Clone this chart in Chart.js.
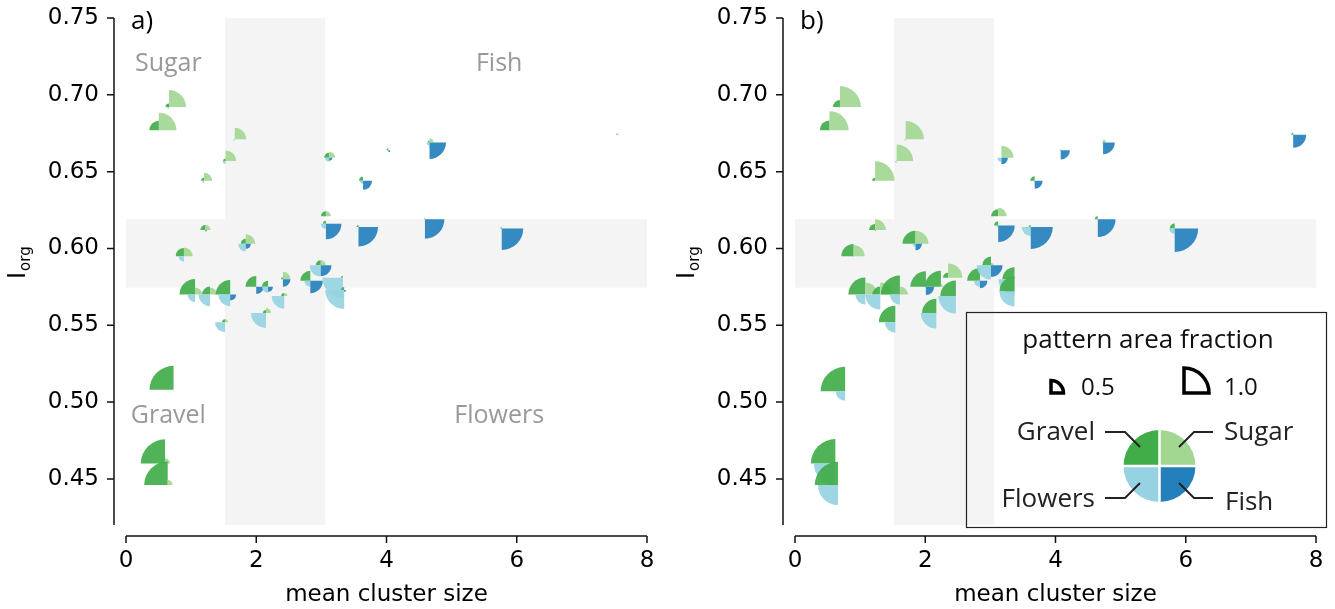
<!DOCTYPE html>
<html>
<head>
<meta charset="utf-8">
<script src="https://cdn.jsdelivr.net/npm/chart.js@4.4.1/dist/chart.umd.min.js"></script>
<style>
  body { margin: 0; background: #fff; width: 1335px; height: 609px; overflow: hidden; position: relative; }
  .panel { position: absolute; top: 0; height: 609px; }
  #pa { left: 0; width: 668px; }
  #pb { left: 669px; width: 666px; }
</style>
</head>
<body>
<div class="panel" id="pa"><canvas id="chartA"></canvas></div>
<div class="panel" id="pb"><canvas id="chartB"></canvas></div>
<script>
// ticks
const xTicks = [0, 2, 4, 6, 8];
const yTicks = [0.45, 0.50, 0.55, 0.60, 0.65, 0.70, 0.75];

// shaded bands (x range of vertical band, y range of horizontal band)
const bandX = [1.52, 3.06];
const bandY = [0.5745, 0.619];

// panel a) : position + pattern area fraction per class
const xA = [0.66, 0.505, 1.67, 1.53, 1.20, 3.12, 4.03, 4.66, 7.55, 3.64, 3.07, 3.07, 3.57, 4.59, 5.77,
            1.22, 1.84, 0.89, 1.06, 1.29, 1.60, 2.00, 2.18, 2.41, 2.43, 2.83, 2.99, 3.33, 3.35, 1.52, 2.15,
            0.73, 0.60, 0.64];
const yA = [0.692, 0.677, 0.671, 0.657, 0.644, 0.659, 0.664, 0.669, 0.674, 0.644, 0.621, 0.616, 0.614, 0.619, 0.613,
            0.612, 0.603, 0.595, 0.570, 0.570, 0.570, 0.575, 0.575, 0.580, 0.569, 0.579, 0.589, 0.581, 0.573, 0.552, 0.558,
            0.508, 0.460, 0.446];
const gravelA  = [0.14, 0.38, 0.02, 0.10, 0.12, 0.20, 0.08, 0.08, 0.06, 0.16, 0.20, 0.12, 0.08, 0.04, 0.06,
                  0.20, 0.20, 0.33, 0.62, 0.32, 0.58, 0.43, 0.24, 0.08, 0.12, 0.40, 0.20, 0.08, 0.12, 0.12, 0.12,
                  0.96, 0.97, 0.94];
const sugarA   = [0.68, 0.70, 0.46, 0.42, 0.32, 0.24, 0.00, 0.16, 0.04, 0.00, 0.20, 0.00, 0.00, 0.00, 0.00,
                  0.20, 0.38, 0.35, 0.28, 0.28, 0.00, 0.00, 0.00, 0.30, 0.12, 0.00, 0.20, 0.00, 0.00, 0.12, 0.20,
                  0.00, 0.20, 0.20];
const flowersA = [0.08, 0.04, 0.06, 0.12, 0.08, 0.16, 0.04, 0.12, 0.00, 0.12, 0.00, 0.20, 0.00, 0.00, 0.02,
                  0.00, 0.30, 0.22, 0.30, 0.46, 0.47, 0.04, 0.24, 0.00, 0.50, 0.24, 0.44, 0.82, 0.76, 0.40, 0.60,
                  0.04, 0.00, 0.00];
const fishA    = [0.00, 0.00, 0.00, 0.00, 0.00, 0.12, 0.08, 0.66, 0.00, 0.36, 0.00, 0.62, 0.78, 0.78, 0.86,
                  0.06, 0.20, 0.00, 0.00, 0.00, 0.24, 0.29, 0.20, 0.30, 0.00, 0.50, 0.43, 0.00, 0.08, 0.00, 0.00,
                  0.00, 0.00, 0.00];

// panel b)
const xB = [0.69, 0.53, 1.70, 1.56, 1.23, 3.17, 4.08, 4.73, 7.65, 3.68, 3.12, 3.12, 3.62, 4.65, 5.83,
            1.23, 1.85, 0.90, 1.08, 1.31, 1.61, 2.01, 2.24, 2.35, 2.47, 2.84, 3.01, 3.37, 3.37, 1.54, 2.17,
            0.77, 0.62, 0.66];
const yB = [0.692, 0.677, 0.671, 0.657, 0.644, 0.659, 0.664, 0.669, 0.674, 0.644, 0.621, 0.615, 0.614, 0.619, 0.613,
            0.612, 0.603, 0.595, 0.570, 0.570, 0.570, 0.575, 0.575, 0.581, 0.569, 0.579, 0.589, 0.580, 0.572, 0.552, 0.558,
            0.507, 0.460, 0.446];
const gravelB  = [0.28, 0.39, 0.02, 0.02, 0.12, 0.00, 0.04, 0.04, 0.08, 0.18, 0.28, 0.16, 0.08, 0.12, 0.20,
                  0.24, 0.52, 0.49, 0.68, 0.32, 0.76, 0.62, 0.64, 0.20, 0.62, 0.51, 0.35, 0.48, 0.60, 0.66, 0.57,
                  0.98, 0.98, 0.93];
const sugarB   = [0.84, 0.76, 0.73, 0.66, 0.78, 0.48, 0.00, 0.12, 0.00, 0.00, 0.34, 0.00, 0.00, 0.00, 0.00,
                  0.43, 0.52, 0.44, 0.48, 0.48, 0.32, 0.00, 0.10, 0.57, 0.00, 0.00, 0.10, 0.00, 0.00, 0.00, 0.00,
                  0.00, 0.00, 0.00];
const flowersB = [0.04, 0.04, 0.06, 0.08, 0.04, 0.16, 0.04, 0.00, 0.00, 0.04, 0.00, 0.08, 0.36, 0.00, 0.22,
                  0.00, 0.12, 0.04, 0.40, 0.60, 0.40, 0.04, 0.00, 0.00, 0.70, 0.24, 0.57, 0.64, 0.60, 0.42, 0.62,
                  0.38, 0.86, 0.80];
const fishB    = [0.00, 0.00, 0.00, 0.00, 0.00, 0.26, 0.37, 0.47, 0.52, 0.32, 0.00, 0.66, 0.88, 0.71, 0.94,
                  0.04, 0.26, 0.00, 0.00, 0.00, 0.00, 0.33, 0.00, 0.00, 0.00, 0.30, 0.46, 0.00, 0.00, 0.00, 0.00,
                  0.00, 0.00, 0.00];

// region labels for panel a
const regionNames = ['Sugar', 'Fish', 'Gravel', 'Flowers'];
const regionX = [0.65, 5.73, 0.65, 5.73];
const regionY = [0.720, 0.720, 0.491, 0.491];

const classNames = ['Gravel', 'Sugar', 'Flowers', 'Fish'];
const classColors = ['#41ad49', '#a2d792', '#96d2e2', '#2480bd'];
// start/end angle for each quarter (canvas y points down)
const quarterAngles = [[Math.PI, 1.5 * Math.PI], [1.5 * Math.PI, 2 * Math.PI], [0.5 * Math.PI, Math.PI], [0, 0.5 * Math.PI]];
const R_FULL = 25; // radius in px of a quarter with fraction 1.0

const tickFont = { family: 'DejaVu Sans', size: 23 };
const textFont = 'Open Sans';

function drawQuarter(ctx, cx, cy, r, k, fill) {
    ctx.beginPath();
    ctx.moveTo(cx, cy);
    ctx.arc(cx, cy, r, quarterAngles[k][0], quarterAngles[k][1]);
    ctx.closePath();
    ctx.fillStyle = fill;
    ctx.fill();
}

const glyphPlugin = {
    id: 'glyphs',
    beforeDatasetsDraw(chart) {
        const { ctx } = chart;
        const x = chart.scales.x, y = chart.scales.y;
        const top = y.getPixelForValue(y.max), bottom = y.getPixelForValue(y.min);
        ctx.save();
        ctx.fillStyle = '#f4f4f4';
        // faixa vertical
        const vx1 = x.getPixelForValue(bandX[0]), vx2 = x.getPixelForValue(bandX[1]);
        ctx.fillRect(vx1, top, vx2 - vx1, bottom - top);
        // faixa horizontal
        const hy1 = y.getPixelForValue(bandY[1]), hy2 = y.getPixelForValue(bandY[0]);
        const hx1 = x.getPixelForValue(x.min), hx2 = x.getPixelForValue(x.max);
        ctx.fillRect(hx1, hy1, hx2 - hx1, hy2 - hy1);
        ctx.restore();
    },
    afterDatasetsDraw(chart) {
        const { ctx } = chart;
        const ds = chart.data.datasets[0];
        const meta = chart.getDatasetMeta(0);
        const fracs = [ds.gravel, ds.sugar, ds.flowers, ds.fish];
        ctx.save();
        ctx.globalAlpha = 0.92;
        meta.data.forEach((pt, i) => {
            for (let k = 0; k < 4; k++) {
                const f = fracs[k][i];
                if (f > 0) drawQuarter(ctx, pt.x, pt.y, R_FULL * f, k, classColors[k]);
            }
        });
        ctx.restore();
    },
    afterDraw(chart) {
        const { ctx } = chart;
        const x = chart.scales.x, y = chart.scales.y;
        const area = chart.chartArea;
        const opts = chart.options.plugins.glyphs;
        ctx.save();
        // spines, offset from the data area
        ctx.strokeStyle = '#111';
        ctx.lineWidth = 1.5;
        const spineX = area.left - 12;
        const spineY = area.bottom + 11;
        ctx.beginPath();
        ctx.moveTo(spineX, area.top);
        ctx.lineTo(spineX, area.bottom);
        yTicks.forEach(v => {
            const py = y.getPixelForValue(v);
            ctx.moveTo(spineX - 7, py);
            ctx.lineTo(spineX, py);
        });
        ctx.moveTo(x.getPixelForValue(xTicks[0]), spineY);
        ctx.lineTo(x.getPixelForValue(xTicks[xTicks.length - 1]), spineY);
        xTicks.forEach(v => {
            const px = x.getPixelForValue(v);
            ctx.moveTo(px, spineY);
            ctx.lineTo(px, spineY + 7);
        });
        ctx.stroke();

        // axis titles
        ctx.fillStyle = '#000';
        ctx.font = '23px "DejaVu Sans"';
        ctx.textAlign = 'center';
        ctx.textBaseline = 'alphabetic';
        ctx.fillText('mean cluster size', (area.left + area.right) / 2, 601);

        ctx.save();
        ctx.translate(25, 279);
        ctx.rotate(-Math.PI / 2);
        ctx.textAlign = 'left';
        ctx.font = '24px "DejaVu Sans"';
        ctx.fillText('I', 0, 0);
        const iw = ctx.measureText('I').width;
        ctx.font = '15px "DejaVu Sans"';
        ctx.fillText('org', iw + 1, 5);
        ctx.restore();

        // panel letter
        ctx.font = '26px "' + textFont + '"';
        ctx.textAlign = 'left';
        ctx.fillText(opts.letter, area.left + 5, 29);

        if (opts.regions) {
            ctx.fillStyle = '#999';
            ctx.font = '25px "' + textFont + '"';
            ctx.textAlign = 'center';
            ctx.textBaseline = 'middle';
            regionNames.forEach((name, i) => {
                ctx.fillText(name, x.getPixelForValue(regionX[i]), y.getPixelForValue(regionY[i]));
            });
        }

        if (opts.legend) drawLegend(ctx);
        ctx.restore();
    }
};

function drawLegend(ctx) {
    ctx.save();
    // caixa
    ctx.strokeStyle = '#222';
    ctx.lineWidth = 1.2;
    ctx.strokeRect(297.5, 312.5, 360, 215);

    ctx.fillStyle = '#111';
    ctx.font = '26px "' + textFont + '"';
    ctx.textAlign = 'center';
    ctx.textBaseline = 'alphabetic';
    ctx.fillText('pattern area fraction', 479, 348);

    // amostras de tamanho
    ctx.lineWidth = 3.5;
    ctx.strokeStyle = '#000';
    ctx.lineJoin = 'miter';
    [[382, 393, 0.5], [515, 393, 1.0]].forEach(([cx, cy, f]) => {
        const r = R_FULL * f;
        ctx.beginPath();
        ctx.moveTo(cx, cy);
        ctx.lineTo(cx, cy - r);
        ctx.arc(cx, cy, r, -0.5 * Math.PI, 0);
        ctx.closePath();
        ctx.stroke();
    });
    ctx.font = '24px "' + textFont + '"';
    ctx.textAlign = 'left';
    ctx.fillText('0.5', 412, 395);
    ctx.fillText('1.0', 555, 395);

    // pizza da legenda
    const pcx = 490.5, pcy = 466, pr = 36;
    for (let k = 0; k < 4; k++) drawQuarter(ctx, pcx, pcy, pr, k, classColors[k]);
    ctx.strokeStyle = '#fff';
    ctx.lineWidth = 2.5;
    ctx.beginPath();
    ctx.moveTo(pcx - pr - 1, pcy); ctx.lineTo(pcx + pr + 1, pcy);
    ctx.moveTo(pcx, pcy - pr - 1); ctx.lineTo(pcx, pcy + pr + 1);
    ctx.stroke();

    // linhas de chamada
    ctx.strokeStyle = '#222';
    ctx.lineWidth = 2;
    ctx.beginPath();
    ctx.moveTo(436, 432); ctx.lineTo(456, 432); ctx.lineTo(471, 447);
    ctx.moveTo(544, 432); ctx.lineTo(525, 432); ctx.lineTo(510, 447);
    ctx.moveTo(436, 498); ctx.lineTo(456, 498); ctx.lineTo(471, 483);
    ctx.moveTo(544, 498); ctx.lineTo(525, 498); ctx.lineTo(510, 483);
    ctx.stroke();

    ctx.fillStyle = '#222';
    ctx.font = '26px "' + textFont + '"';
    ctx.textAlign = 'right';
    ctx.fillText(classNames[0], 426, 440);
    ctx.fillText(classNames[2], 426, 507);
    ctx.textAlign = 'left';
    ctx.fillText(classNames[1], 555, 440);
    ctx.fillText(classNames[3], 556, 510);
    ctx.restore();
}

function makeChart(id, xs, ys, g, s, fl, fi, letter, regions, legend) {
    return new Chart(document.getElementById(id), {
        type: 'scatter',
        data: {
            datasets: [{
                data: xs.map((v, i) => ({ x: v, y: ys[i] })),
                gravel: g, sugar: s, flowers: fl, fish: fi,
                pointRadius: 0,
                pointHoverRadius: 0
            }]
        },
        options: {
            responsive: true,
            maintainAspectRatio: false,
            animation: false,
            events: [],
            devicePixelRatio: 1,
            layout: { padding: { top: 18, left: 0, right: id === 'chartA' ? 21 : 19, bottom: 0 } },
            plugins: {
                legend: { display: false },
                tooltip: { enabled: false },
                glyphs: { letter: letter, regions: regions, legend: legend }
            },
            scales: {
                x: {
                    type: 'linear',
                    min: 0, max: 8,
                    grid: { display: false, drawTicks: false },
                    border: { display: false },
                    afterBuildTicks: axis => { axis.ticks = xTicks.map(v => ({ value: v })); },
                    afterFit: axis => {
                        axis.height = 84;
                        axis.paddingLeft = 0; axis.paddingRight = 0;
                    },
                    ticks: { font: tickFont, color: '#000', padding: 22, maxRotation: 0, autoSkip: false }
                },
                y: {
                    type: 'linear',
                    min: 0.42, max: 0.75,
                    grid: { display: false, drawTicks: false },
                    border: { display: false },
                    afterBuildTicks: axis => { axis.ticks = yTicks.map(v => ({ value: v })); },
                    afterFit: axis => {
                        axis.width = 126;
                        axis.paddingTop = 0; axis.paddingBottom = 0;
                    },
                    ticks: { font: tickFont, color: '#000', padding: 27, autoSkip: false,
                             callback: v => v.toFixed(2) }
                }
            }
        },
        plugins: [glyphPlugin]
    });
}

makeChart('chartA', xA, yA, gravelA, sugarA, flowersA, fishA, 'a)', true, false);
makeChart('chartB', xB, yB, gravelB, sugarB, flowersB, fishB, 'b)', false, true);
</script>
</body>
</html>
